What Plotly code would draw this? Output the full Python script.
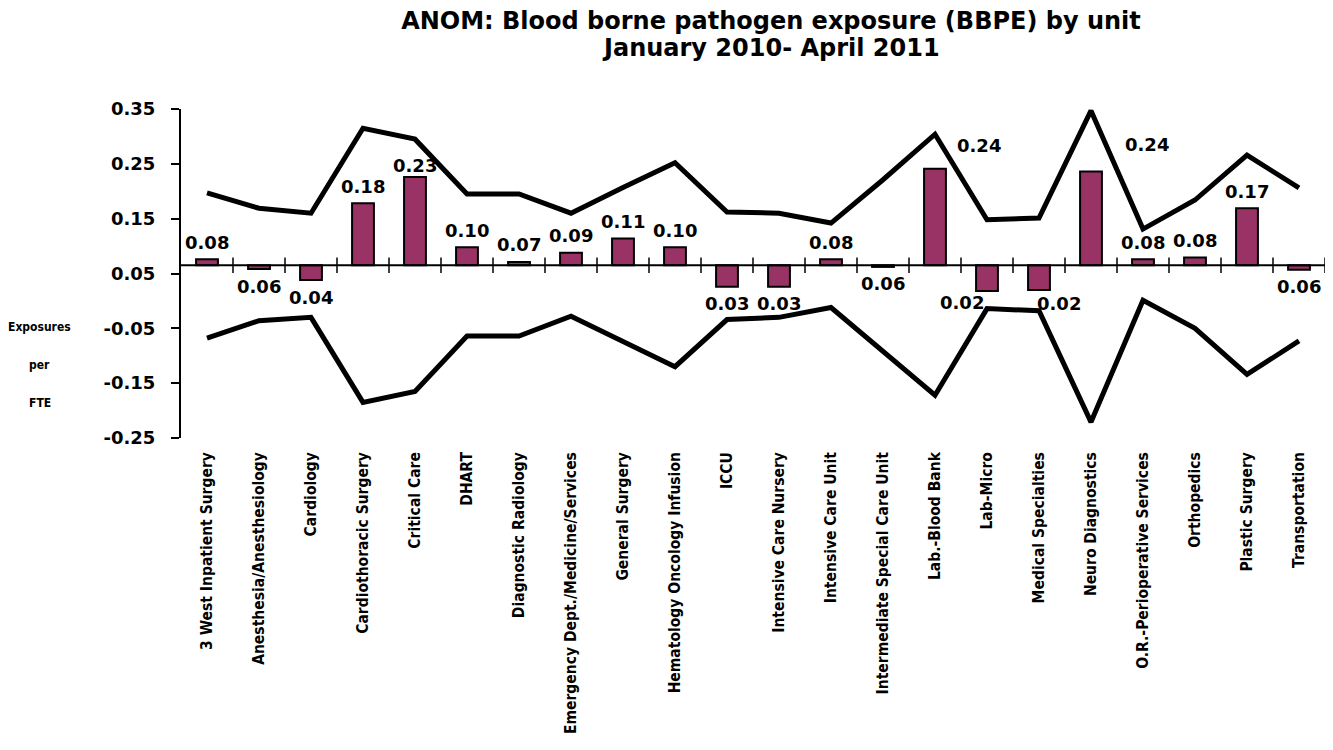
import plotly.graph_objects as go

# ---------------- data ----------------
units = [
    "3 West Inpatient Surgery", "Anesthesia/Anesthesiology", "Cardiology",
    "Cardiothoracic Surgery", "Critical Care", "DHART", "Diagnostic Radiology",
    "Emergency Dept./Medicine/Services", "General Surgery",
    "Hematology Oncology Infusion", "ICCU", "Intensive Care Nursery",
    "Intensive Care Unit", "Intermediate Special Care Unit", "Lab.-Blood Bank",
    "Lab-Micro", "Medical Specialties", "Neuro Diagnostics",
    "O.R.-Perioperative Services", "Orthopedics", "Plastic Surgery",
    "Transportation",
]
exposure_rate = [0.076, 0.058, 0.038, 0.178, 0.226, 0.098, 0.071, 0.088, 0.114,
                 0.098, 0.026, 0.026, 0.076, 0.062, 0.241, 0.018, 0.020, 0.236,
                 0.076, 0.079, 0.169, 0.057]
upper_limit = [0.197, 0.169, 0.160, 0.315, 0.295, 0.195, 0.195, 0.160, 0.207,
               0.252, 0.162, 0.160, 0.142, 0.221, 0.304, 0.148, 0.151, 0.347,
               0.131, 0.184, 0.266, 0.206]
lower_limit = [-0.068, -0.036, -0.030, -0.185, -0.165, -0.064, -0.064, -0.028,
               -0.074, -0.120, -0.034, -0.030, -0.012, -0.092, -0.172, -0.014,
               -0.018, -0.221, 0.001, -0.050, -0.134, -0.073]
center_line = 0.065
y_ticks = [0.35, 0.25, 0.15, 0.05, -0.05, -0.15, -0.25]
y_tick_text = ["0.35", "0.25", "0.15", "0.05", "-0.05", "-0.15", "-0.25"]

title_line1 = "ANOM: Blood borne pathogen exposure (BBPE) by unit"
title_line2 = "January 2010- April 2011"

# ---------------- style ----------------
BAR_COLOR = "#993366"
NUM_FONT = "DejaVu Sans"
NARROW_FONT = "Liberation Sans Narrow, DejaVu Sans Condensed, Arial Narrow, sans-serif"
# label offset overrides (xshift, distance away from bar end) in pixels
label_offsets = {4: (0, 11), 14: (44, 23), 15: (-25, 11), 16: (20, 14), 17: (56, 27)}

# the page body adds an 8px offset, so the figure is 8px smaller each way
FIG_W, FIG_H = 1325, 742

n = len(units)
xs = list(range(n))

fig = go.Figure()

# bars from the centre line
fig.add_trace(go.Bar(
    x=xs, y=[v - center_line for v in exposure_rate], base=center_line,
    width=0.42, marker=dict(color=BAR_COLOR, line=dict(color="black", width=2)),
    hoverinfo="skip", showlegend=False,
))

# centre (category) axis line with crossing ticks
fig.add_trace(go.Scatter(
    x=[-0.5, n - 0.5], y=[center_line, center_line], mode="lines",
    line=dict(color="black", width=2), hoverinfo="skip", showlegend=False,
))
fig.add_trace(go.Scatter(
    x=[i + 0.5 for i in xs], y=[center_line] * n, mode="markers",
    marker=dict(symbol="line-ns", size=11, line=dict(color="black", width=1.5)),
    hoverinfo="skip", showlegend=False,
))

# decision limits
for lim in (upper_limit, lower_limit):
    fig.add_trace(go.Scatter(
        x=xs, y=lim, mode="lines", line=dict(color="black", width=5),
        hoverinfo="skip", showlegend=False,
    ))

# value labels
annotations = []
for i, v in enumerate(exposure_rate):
    up = v >= center_line
    dx, dy = label_offsets.get(i, (0, 17))
    annotations.append(dict(
        x=i, y=v, xref="x", yref="y", text=f"{v:.2f}", showarrow=False,
        xanchor="center", yanchor="middle", xshift=dx,
        yshift=dy if up else -dy,
        font=dict(family=NUM_FONT, size=18, color="black", weight="bold"),
    ))

# y-axis title, stacked
for txt, yp in (("Exposures", 0.337), ("per", 0.222), ("FTE", 0.106)):
    annotations.append(dict(
        x=-0.1233, y=yp, xref="paper", yref="paper", text=txt, showarrow=False,
        xanchor="center", yanchor="middle",
        font=dict(family=NARROW_FONT, size=12, color="black", weight="bold"),
    ))

# second title line
annotations.append(dict(
    x=0.5157, y=1.185, xref="paper", yref="paper", text=title_line2, showarrow=False,
    xanchor="center", yanchor="middle",
    font=dict(family=NUM_FONT, size=24, color="black", weight="bold"),
))

fig.update_layout(
    width=FIG_W, height=FIG_H,
    margin=dict(l=173, r=8, t=101, b=312),
    paper_bgcolor="white", plot_bgcolor="white",
    title=dict(
        text=title_line1,
        x=0.5157, xref="paper", xanchor="center",
        y=1 - 12.5 / FIG_H, yref="container", yanchor="middle",
        font=dict(family=NUM_FONT, size=24, color="black", weight="bold"),
    ),
    xaxis=dict(
        range=[-0.5, n - 0.5], tickmode="array", tickvals=xs, ticktext=units,
        tickangle=-90, showline=False, ticks="", showgrid=False, zeroline=False,
        ticklabelstandoff=10, automargin=False,
        tickfont=dict(family=NARROW_FONT, size=15.5, color="black", weight="bold"),
    ),
    yaxis=dict(
        range=[-0.25, 0.35], tickmode="array", tickvals=y_ticks, ticktext=y_tick_text,
        showline=True, linecolor="black", linewidth=2,
        ticks="outside", ticklen=8, tickwidth=2, tickcolor="black",
        showgrid=False, zeroline=False, ticklabelstandoff=12, automargin=False,
        tickfont=dict(family=NUM_FONT, size=18, color="black", weight="bold"),
    ),
    annotations=annotations,
    bargap=0.58,
)

fig.write_html("out.html")
